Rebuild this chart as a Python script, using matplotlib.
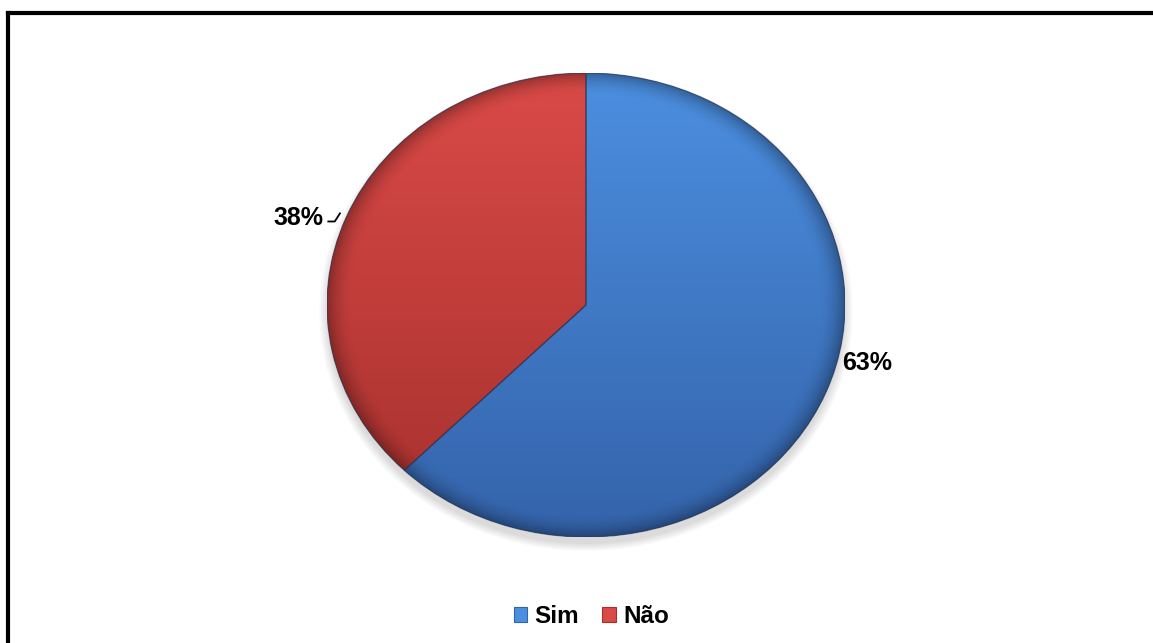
import numpy as np
import matplotlib
matplotlib.use("Agg")
import matplotlib.pyplot as plt
from matplotlib.colors import LinearSegmentedColormap
from matplotlib.patches import Patch, Ellipse, Circle, Wedge
from matplotlib.lines import Line2D

labels = ["Sim", "Não"]
values = [63, 38]
top_colors = ["#4C8FE0", "#DA4A47"]
bottom_colors = ["#3463AA", "#A5302E"]

plt.rcParams["font.family"] = ["Liberation Sans", "DejaVu Sans"]

fig = plt.figure(figsize=(11.53, 6.43), dpi=100)
fig.patch.set_facecolor("white")

# outer frame (top and left edges visible)
fig.add_artist(Line2D([8 / 1153, 1.0], [1 - 13 / 643, 1 - 13 / 643],
                      transform=fig.transFigure, color="black", lw=3))
fig.add_artist(Line2D([8 / 1153, 8 / 1153], [0.0, 1 - 13 / 643],
                      transform=fig.transFigure, color="black", lw=3,
                      solid_capstyle="projecting"))

ax = fig.add_axes([327 / 1153, 106 / 643, 518 / 1153, 464 / 643])
ax.set_aspect("auto")

# soft shadow under the pie
for k in range(6):
    sh = Ellipse((0.0, -0.03), 2.0 + 0.012 * k, 2.0 + 0.012 * k,
                 facecolor="black", alpha=0.025, lw=0, zorder=0, clip_on=False)
    ax.add_patch(sh)

wedges, _ = ax.pie(values, startangle=90, counterclock=False,
                   colors=bottom_colors, radius=1.0,
                   wedgeprops=dict(edgecolor="none", linewidth=0))

yy = np.linspace(1, 0, 256).reshape(-1, 1) * np.ones((1, 4))
for w, c0, c1 in zip(wedges, top_colors, bottom_colors):
    w.set_zorder(1)
    cmap = LinearSegmentedColormap.from_list("g", [c1, c0])
    im = ax.imshow(yy, extent=[-1, 1, -1, 1], aspect="auto", cmap=cmap,
                   origin="upper", zorder=2, interpolation="bilinear")
    im.set_clip_path(w)

# darker rim toward the outer edge
n = 400
gx, gy = np.meshgrid(np.linspace(-1, 1, n), np.linspace(1, -1, n))
r = np.sqrt(gx ** 2 + gy ** 2)
rim = np.zeros((n, n, 4))
rim[..., 3] = np.clip((r - 0.90) / 0.10, 0, 1) ** 2 * 0.30
rim_im = ax.imshow(rim, extent=[-1, 1, -1, 1], aspect="auto", zorder=3,
                   interpolation="bilinear")
rim_im.set_clip_path(Circle((0, 0), 1.0, transform=ax.transData))

for w in wedges:
    edge = Wedge(w.center, w.r, w.theta1, w.theta2,
                 facecolor="none", edgecolor="#2a3550",
                 linewidth=0.9, alpha=0.6, zorder=4)
    ax.add_patch(edge)

ax.text(1.085, -0.25, f"{values[0]}%", ha="center", va="center",
        fontsize=18, fontweight="bold", color="black", clip_on=False)
ax.text(-1.11, 0.375, f"{values[1]}%", ha="center", va="center",
        fontsize=18, fontweight="bold", color="black", clip_on=False)
ax.plot([-0.995, -0.97, -0.95], [0.36, 0.36, 0.395], color="black", lw=1.3,
        zorder=5, clip_on=False)

ax.set_xlim(-1.0, 1.0)
ax.set_ylim(-1.0, 1.0)
ax.axis("off")

handles = [Patch(facecolor=c, edgecolor=b, linewidth=0.8)
           for c, b in zip(top_colors, bottom_colors)]
fig.legend(handles, labels, loc="center", bbox_to_anchor=(0.513, 0.041),
           ncol=2, frameon=False, handlelength=0.55, handleheight=0.55,
           handletextpad=0.3, columnspacing=0.95,
           prop=dict(size=17.5, weight="bold"))

fig.savefig("out.png", dpi=100, facecolor="white")
